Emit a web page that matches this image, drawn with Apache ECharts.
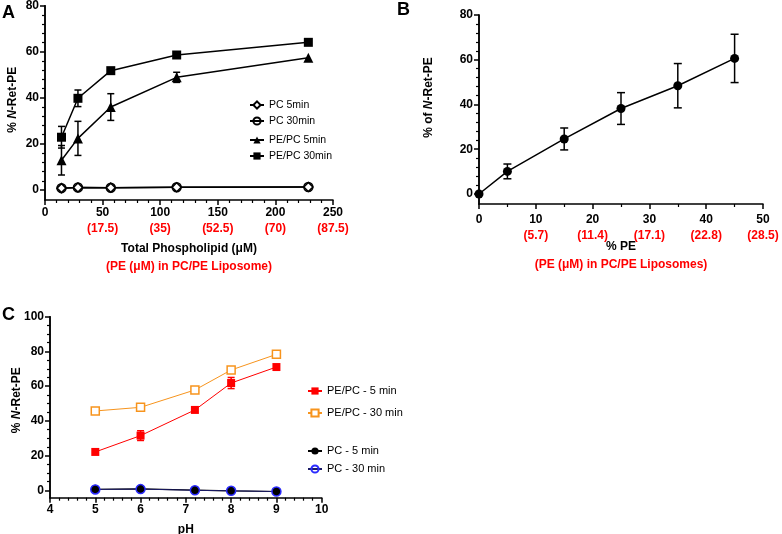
<!DOCTYPE html>
<html>
<head>
<meta charset="utf-8">
<script src="https://cdn.jsdelivr.net/npm/echarts@6/dist/echarts.min.js"></script>
<style>
html,body{margin:0;padding:0;background:#fff;}
#c{width:782px;height:534px;}
</style>
</head>
<body>
<div id="c"></div>
<script>
// ---------- Panel A data ----------
const aTotalPL = [14.3, 28.6, 57.1, 114.3, 228.6];
const aPC5 = [0.8, 1.1, 1.0, 1.2, 1.3];
const aPC30 = [0.8, 1.1, 1.0, 1.2, 1.3];
const aPEPC5 = [12.9, 22.4, 36.0, 48.9, 57.4];
const aPEPC5Err = [6.4, 7.4, 5.8, 2.2, 0];
const aPEPC30 = [22.9, 39.8, 51.8, 58.6, 64.1];
const aPEPC30Err = [4.7, 3.6, 0, 0, 0];
const aXTicks = [0, 50, 100, 150, 200, 250];
const aXRed = ['', '(17.5)', '(35)', '(52.5)', '(70)', '(87.5)'];
const aYTicks = [0, 20, 40, 60, 80];

// ---------- Panel B data ----------
const bPctPE = [0, 5, 15, 25, 35, 45];
const bNRet = [0, 10.1, 24.6, 38.2, 48.4, 60.6];
const bErr = [0, 3.3, 4.9, 7.1, 9.9, 10.8];
const bXTicks = [0, 10, 20, 30, 40, 50];
const bXRed = ['', '(5.7)', '(11.4)', '(17.1)', '(22.8)', '(28.5)'];
const bYTicks = [0, 20, 40, 60, 80];

// ---------- Panel C data ----------
const cPH = [5, 6, 7.2, 8, 9];
const cPEPC5 = [22.1, 31.5, 46.3, 61.8, 71.0];
const cPEPC5Err = [0, 2.8, 0, 3.2, 0];
const cPEPC30 = [45.7, 47.8, 57.8, 69.3, 78.3];
const cPC5 = [0.6, 0.8, 0.1, -0.3, -0.7];
const cPC30 = [0.5, 0.7, 0.0, -0.3, -0.7];
const cXTicks = [4, 5, 6, 7, 8, 9, 10];
const cYTicks = [0, 20, 40, 60, 80, 100];

const FONT = '"Liberation Sans", Arial, Helvetica, sans-serif';
const RED = '#ff0000';

function minorOf(ticks, n) {
  const out = [];
  for (let i = 0; i < ticks.length - 1; i++) {
    const step = (ticks[i + 1] - ticks[i]) / n;
    for (let k = 1; k < n; k++) out.push(+(ticks[i] + k * step).toFixed(6));
  }
  return out;
}

function xAxisCfg(gi, ticks, reds, minorSplit, name, nameGap, margin) {
  return {
    type: 'value', gridIndex: gi, position: 'bottom',
    min: ticks[0], max: ticks[ticks.length - 1], interval: ticks[1] - ticks[0],
    axisLine: { show: true, onZero: false, lineStyle: { color: '#000', width: 1.5 } },
    axisTick: { show: true, length: 5, lineStyle: { color: '#000', width: 1.5 } },
    minorTick: { show: true, splitNumber: minorSplit, length: 3, lineStyle: { color: '#000', width: 1.2 } },
    splitLine: { show: false }, minorSplitLine: { show: false },
    axisLabel: {
      margin: margin, fontFamily: FONT,
      formatter: function (v) {
        const i = ticks.findIndex(t => Math.abs(t - v) < 1e-6);
        if (i < 0) return '';
        const r = reds ? reds[i] : '';
        return r ? '{b|' + ticks[i] + '}\n{r|' + r + '}' : '{b|' + ticks[i] + '}';
      },
      rich: {
        b: { fontFamily: FONT, fontWeight: 'bold', fontSize: 12, color: '#000', lineHeight: 16 },
        r: { fontFamily: FONT, fontWeight: 'bold', fontSize: 12, color: RED, lineHeight: 16 }
      }
    },
    name: name, nameLocation: 'middle', nameGap: nameGap, nameMoveOverlap: false,
    nameTextStyle: {
      fontFamily: FONT,
      rich: {
        t: { fontFamily: FONT, fontWeight: 'bold', fontSize: 12, color: '#000', lineHeight: 18 },
        r: { fontFamily: FONT, fontWeight: 'bold', fontSize: 12, color: RED, lineHeight: 18 }
      }
    }
  };
}

function yMainCfg(gi, min, ticks, name, nameGap, padUp) {
  return {
    type: 'value', gridIndex: gi, position: 'left',
    min: min, max: ticks[ticks.length - 1],
    axisLine: { show: true, onZero: false, lineStyle: { color: '#000', width: 1.5 } },
    axisTick: { show: true, customValues: ticks, length: 5, lineStyle: { color: '#000', width: 1.5 } },
    axisLabel: { customValues: ticks, margin: 6, fontFamily: FONT, fontWeight: 'bold', fontSize: 12, color: '#000' },
    splitLine: { show: false },
    name: name, nameLocation: 'middle', nameGap: nameGap, nameRotate: 90, nameMoveOverlap: false,
    nameTextStyle: {
      fontFamily: FONT, padding: [0, 0, 0, padUp * 2],
      rich: {
        t: { fontFamily: FONT, fontWeight: 'bold', fontSize: 12, color: '#000' },
        i: { fontFamily: FONT, fontWeight: 'bold', fontStyle: 'italic', fontSize: 12, color: '#000' }
      }
    }
  };
}

function yMinorCfg(gi, min, ticks, n) {
  return {
    type: 'value', gridIndex: gi, position: 'left',
    min: min, max: ticks[ticks.length - 1],
    axisLine: { show: true, onZero: false, lineStyle: { color: '#000', width: 1.5 } },
    axisTick: { show: true, customValues: minorOf(ticks, n), length: 3, lineStyle: { color: '#000', width: 1.2 } },
    axisLabel: { show: true, customValues: [], color: 'rgba(0,0,0,0)' },
    splitLine: { show: false }
  };
}

function pairs(xs, ys) { return xs.map((x, i) => [x, ys[i]]); }

function errSeries(name, xi, yi, xs, ys, es, color, capHalf) {
  return {
    name: name, type: 'custom', xAxisIndex: xi, yAxisIndex: yi, z: 1,
    silent: true,
    encode: { x: 0, y: 1 },
    data: xs.map((x, i) => [x, ys[i], es[i]]).filter(d => d[2] > 0),
    renderItem: function (params, api) {
      const x = api.value(0), y = api.value(1), e = api.value(2);
      const t = api.coord([x, y + e]);
      const b = api.coord([x, y - e]);
      const st = { stroke: color, lineWidth: 1.5 };
      return {
        type: 'group', children: [
          { type: 'line', shape: { x1: t[0], y1: t[1], x2: b[0], y2: b[1] }, style: st },
          { type: 'line', shape: { x1: t[0] - capHalf, y1: t[1], x2: t[0] + capHalf, y2: t[1] }, style: st },
          { type: 'line', shape: { x1: b[0] - capHalf, y1: b[1], x2: b[0] + capHalf, y2: b[1] }, style: st }
        ]
      };
    }
  };
}

function lineSeries(name, xi, yi, xs, ys, opt) {
  return Object.assign({
    name: name, type: 'line', xAxisIndex: xi, yAxisIndex: yi, z: 3,
    data: pairs(xs, ys), showSymbol: true, symbolKeepAspect: true
  }, opt);
}

const chart = echarts.init(document.getElementById('c'), null, { renderer: 'canvas' });

const option = {
  animation: false,
  backgroundColor: '#fff',
  textStyle: { fontFamily: FONT },
  grid: [
    { left: 45, top: 5.7, width: 288, height: 194.3, containLabel: false, outerBoundsMode: 'none' },
    { left: 479, top: 15, width: 284, height: 189, containLabel: false, outerBoundsMode: 'none' },
    { left: 50, top: 316.7, width: 271.7, height: 181, containLabel: false, outerBoundsMode: 'none' }
  ],
  xAxis: [
    xAxisCfg(0, aXTicks, aXRed, 5, '{t|Total Phospholipid (μM)}\n{r|(PE (μM) in PC/PE Liposome)}', 40, 5),
    xAxisCfg(1, bXTicks, bXRed, 2, '{t|% PE}\n{r|(PE (μM) in PC/PE Liposomes)}', 34, 8),
    xAxisCfg(2, cXTicks, null, 5, '{t|pH}', 23, 4)
  ],
  yAxis: [
    yMainCfg(0, -4.35, aYTicks, '{t|% }{i|N}{t|-Ret-PE}', 26, 3),
    yMinorCfg(0, -4.35, aYTicks, 5),
    yMainCfg(1, -4.47, bYTicks, '{t|% of }{i|N}{t|-Ret-PE}', 44, 12),
    yMinorCfg(1, -4.47, bYTicks, 5),
    yMainCfg(2, -4.26, cYTicks, '{t|% }{i|N}{t|-Ret-PE}', 27, 7),
    yMinorCfg(2, -4.26, cYTicks, 4)
  ],
  legend: [
    {
      data: ['PC 5min', 'PC 30min'], orient: 'vertical', left: 244, top: 94, itemGap: 4,
      itemWidth: 14, itemHeight: 9, selectedMode: false,
      textStyle: { fontFamily: FONT, fontSize: 10.5, color: '#000', lineHeight: 12 }
    },
    {
      data: ['PE/PC 5min', 'PE/PC 30min'], orient: 'vertical', left: 244, top: 129, itemGap: 4,
      itemWidth: 14, itemHeight: 9, selectedMode: false,
      textStyle: { fontFamily: FONT, fontSize: 10.5, color: '#000', lineHeight: 12 }
    },
    {
      data: ['PE/PC - 5 min', 'PE/PC - 30 min'], orient: 'vertical', left: 302, top: 380, itemGap: 10,
      itemWidth: 14, itemHeight: 9, selectedMode: false,
      textStyle: { fontFamily: FONT, fontSize: 11, color: '#000', lineHeight: 12 }
    },
    {
      data: ['PC - 5 min', 'PC - 30 min'], orient: 'vertical', left: 302, top: 440, itemGap: 6,
      itemWidth: 14, itemHeight: 9, selectedMode: false,
      textStyle: { fontFamily: FONT, fontSize: 11, color: '#000', lineHeight: 12 }
    }
  ],
  graphic: [
    { type: 'text', left: 2, top: 4, style: { text: 'A', font: 'bold 18px ' + FONT, fill: '#000' } },
    { type: 'text', left: 397, top: 1, style: { text: 'B', font: 'bold 18px ' + FONT, fill: '#000' } },
    { type: 'text', left: 2, top: 306, style: { text: 'C', font: 'bold 18px ' + FONT, fill: '#000' } }
  ],
  series: [
    // Panel A
    errSeries('errA5', 0, 0, aTotalPL, aPEPC5, aPEPC5Err, '#000', 3.5),
    errSeries('errA30', 0, 0, aTotalPL, aPEPC30, aPEPC30Err, '#000', 3.5),
    lineSeries('PC 5min', 0, 0, aTotalPL, aPC5, {
      symbol: 'diamond', symbolSize: 9,
      itemStyle: { color: '#fff', borderColor: '#000', borderWidth: 1.5 },
      lineStyle: { color: '#000', width: 1.5 }
    }),
    lineSeries('PC 30min', 0, 0, aTotalPL, aPC30, {
      symbol: 'circle', symbolSize: 9,
      itemStyle: { color: 'rgba(255,255,255,0)', borderColor: '#000', borderWidth: 1.5 },
      lineStyle: { color: '#000', width: 1.5 }
    }),
    lineSeries('PE/PC 5min', 0, 0, aTotalPL, aPEPC5, {
      symbol: 'triangle', symbolSize: 10,
      itemStyle: { color: '#000' }, lineStyle: { color: '#000', width: 1.5 }
    }),
    lineSeries('PE/PC 30min', 0, 0, aTotalPL, aPEPC30, {
      symbol: 'rect', symbolSize: 9,
      itemStyle: { color: '#000' }, lineStyle: { color: '#000', width: 1.5 }
    }),
    // Panel B
    errSeries('errB', 1, 2, bPctPE, bNRet, bErr, '#000', 4),
    lineSeries('B', 1, 2, bPctPE, bNRet, {
      symbol: 'circle', symbolSize: 9,
      itemStyle: { color: '#000' }, lineStyle: { color: '#000', width: 1.5 }
    }),
    // Panel C
    errSeries('errC5', 2, 4, cPH, cPEPC5, cPEPC5Err, RED, 3.5),
    lineSeries('PE/PC - 5 min', 2, 4, cPH, cPEPC5, {
      symbol: 'rect', symbolSize: 8,
      itemStyle: { color: RED }, lineStyle: { color: RED, width: 1 }
    }),
    lineSeries('PE/PC - 30 min', 2, 4, cPH, cPEPC30, {
      symbol: 'rect', symbolSize: 8,
      itemStyle: { color: '#fff', borderColor: '#f7941d', borderWidth: 1.5 },
      lineStyle: { color: '#f7941d', width: 1 }
    }),
    lineSeries('PC - 5 min', 2, 4, cPH, cPC5, {
      symbol: 'circle', symbolSize: 9,
      itemStyle: { color: '#000' }, lineStyle: { color: '#000', width: 1.2 }
    }),
    lineSeries('PC - 30 min', 2, 4, cPH, cPC30, {
      symbol: 'circle', symbolSize: 9,
      itemStyle: { color: 'rgba(255,255,255,0)', borderColor: '#2a2aff', borderWidth: 1.5 },
      lineStyle: { color: '#1a1a66', width: 1 }
    })
  ]
};

chart.setOption(option);
</script>
</body>
</html>
